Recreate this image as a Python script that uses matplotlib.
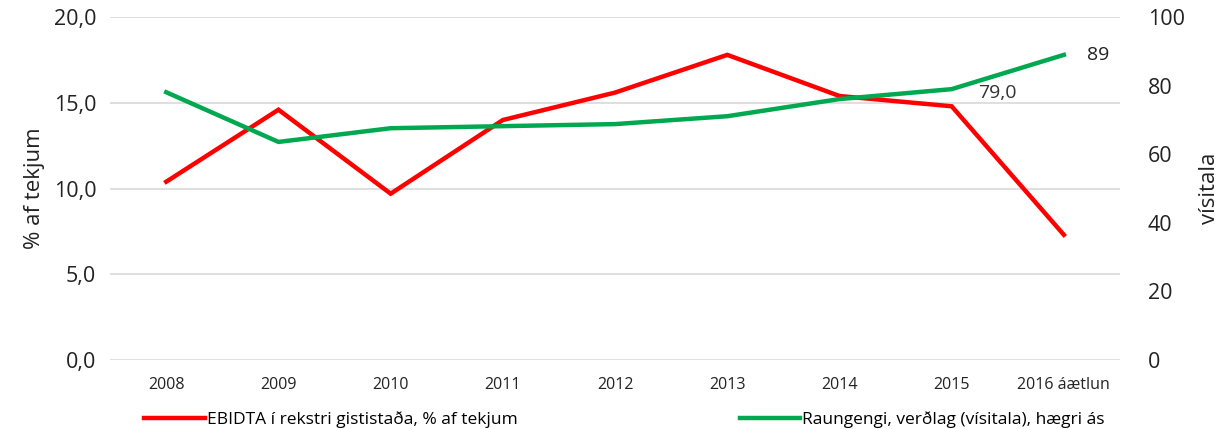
import matplotlib.pyplot as plt
from matplotlib.ticker import FuncFormatter

# data
ar = ["2008", "2009", "2010", "2011", "2012", "2013", "2014", "2015", "2016 áætlun"]
ebidta = [10.4, 14.6, 9.7, 14.0, 15.6, 17.8, 15.4, 14.8, 7.3]
raungengi = [78.1, 63.6, 67.6, 68.2, 68.8, 71.1, 76.1, 79.0, 89.0]

rautt = "#ff0000"
graent = "#00a84f"

plt.rcParams["font.family"] = ["Open Sans", "DejaVu Sans"]

fig = plt.figure(figsize=(12.24, 4.29), dpi=100)
ax = fig.add_axes([0.09, 0.161, 0.825, 0.799])
ax2 = ax.twinx()

x = range(len(ar))
l1, = ax.plot(x, ebidta, color=rautt, lw=3.2, solid_joinstyle="miter",
              label="EBIDTA í rekstri gististaða, % af tekjum")
l2, = ax2.plot(x, raungengi, color=graent, lw=3.2, solid_joinstyle="miter",
               label="Raungengi, verðlag (vísitala), hægri ás")

ax.set_xlim(-0.5, len(ar) - 0.5)
ax.set_ylim(0, 20)
ax.set_yticks([0, 5, 10, 15, 20])
ax.yaxis.set_major_formatter(FuncFormatter(lambda v, p: f"{v:.1f}".replace(".", ",")))
ax2.set_ylim(0, 100)
ax2.set_yticks([0, 20, 40, 60, 80, 100])

ax.grid(axis="y", color="#d9d9d9", lw=1.2)
ax.set_axisbelow(True)
for a in (ax, ax2):
    for s in a.spines.values():
        s.set_visible(False)
    a.tick_params(length=0, labelsize=15.5, colors="#222222")

ax.set_xticks(list(x))
ax.set_xticklabels(ar, fontsize=11.5)
ax.tick_params(axis="x", pad=12)
ax.tick_params(axis="y", pad=10)
ax2.tick_params(axis="y", pad=20)

ax.set_ylabel("% af tekjum", fontsize=16, color="#222222", labelpad=6)
ax2.set_ylabel("vísitala", fontsize=16, color="#222222", labelpad=10)

# gildismerki
ax2.annotate("79,0", (7, raungengi[7]), xytext=(19, -3), textcoords="offset points",
             fontsize=14, color="#333333", va="center", ha="left")
ax2.annotate("89", (8, raungengi[8]), xytext=(17, 0), textcoords="offset points",
             fontsize=14, color="#222222", va="center", ha="left")

fig.legend([l1, l2], [l1.get_label(), l2.get_label()], loc="lower left",
           bbox_to_anchor=(0.105, -0.035), ncol=2, frameon=False, columnspacing=12.8,
           handlelength=3.5, handletextpad=0.1,
           prop={"size": 12.5})

fig.savefig("out.png", dpi=100)
